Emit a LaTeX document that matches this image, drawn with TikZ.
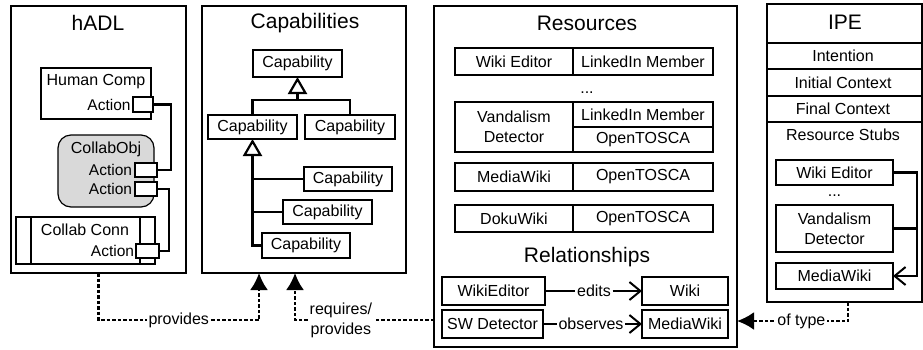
\documentclass[tikz,border=0pt]{standalone}
\usepackage{fontspec}
\setmainfont{Liberation Sans}
\usetikzlibrary{arrows.meta}
\definecolor{cofill}{RGB}{217,217,217}
\newcommand\bodyfs{\fontsize{16}{20}\selectfont}
\newcommand\titlefs{\fontsize{21}{24}\selectfont}
\newcommand\actfs{\fontsize{15.5}{18}\selectfont}
\tikzset{
  txt/.style={inner sep=0pt, outer sep=0pt, font=\bodyfs, align=center},
  ttl/.style={inner sep=0pt, outer sep=0pt, font=\titlefs},
  act/.style={inner sep=0pt, outer sep=0pt, font=\actfs, anchor=east},
  frame/.style={draw, line width=1.4pt, inner sep=0pt, outer sep=0pt},
  bx/.style={draw, line width=1.2pt, fill=white, inner sep=0pt, outer sep=0pt, font=\bodyfs, align=center},
  conn/.style={line width=2.2pt},
  rel/.style={line width=1.7pt},
  dep/.style={line width=2.4pt, dash pattern=on 3.5pt off 2pt},
  deptip/.style={-{Latex[length=17pt,width=18pt]}},
  gen/.style={-{Triangle[open,length=17pt,width=19pt,line width=2.2pt]}},
  barb/.style={-{Straight Barb[length=11pt,width=18pt,line width=2pt]}},
  lbl/.style={fill=white, inner sep=1.5pt, font=\bodyfs, align=center},
}
\begin{document}
\begin{tikzpicture}[x=1pt,y=-1pt]
\useasboundingbox (0,0) rectangle (923,349);
% ---------------- hADL ----------------
\node[frame, minimum width=175pt, minimum height=267pt] (hadl) at (98.5,139.5) {};
\node[ttl] (hadlt) at (98,23) {hADL};
\node[bx, minimum width=110pt, minimum height=51pt] (hc) at (96,93.5) {};
\node[txt] (hct) at (96,82) {Human Comp};
\node[act] (a0) at (130.5,105) {Action};
\node[bx, minimum width=20pt, minimum height=15pt] (p0) at (143,104.5) {};
\node[draw, line width=1.2pt, fill=cofill, rounded corners=13pt, minimum width=96pt, minimum height=72pt, inner sep=0pt, outer sep=0pt] (co) at (106,171) {};
\node[txt] (cot) at (106,149) {CollabObj};
\node[act] (a1) at (132,170) {Action};
\node[bx, minimum width=22pt, minimum height=14pt] (p1) at (146,170) {};
\node[act] (a2) at (132,189) {Action};
\node[bx, minimum width=22pt, minimum height=14pt] (p2) at (146,189) {};
\node[bx, minimum width=139pt, minimum height=47pt] (cc) at (85.5,240.5) {};
\draw[line width=1.2pt] ([xshift=15pt]cc.north west) -- ([xshift=15pt]cc.south west);
\draw[line width=1.2pt] ([xshift=-15pt]cc.north east) -- ([xshift=-15pt]cc.south east);
\node[txt] (cct) at (85,230) {Collab Conn};
\node[act] (a3) at (134,251) {Action};
\node[bx, minimum width=23pt, minimum height=14pt] (p3) at (147.5,251) {};
\draw[conn] (p0.east) -- ++(18,0) |- (p1.east);
\draw[conn] (p2.east) -- ++(12,0) |- (p3.east);
% ---------------- Capabilities ----------------
\node[frame, minimum width=204pt, minimum height=267pt] (caps) at (304,139.5) {};
\node[ttl] (capst) at (305,23) {Capabilities};
\node[bx, minimum width=89pt, minimum height=27pt] (c0) at (297.5,63.5) {Capability};
\node[bx, minimum width=89pt, minimum height=24pt] (c1) at (252.5,127) {Capability};
\node[bx, minimum width=90pt, minimum height=24pt] (c2) at (350,127) {Capability};
\node[bx, minimum width=88pt, minimum height=24pt] (c3) at (348,179) {Capability};
\node[bx, minimum width=89pt, minimum height=24pt] (c4) at (327.5,212) {Capability};
\node[bx, minimum width=88pt, minimum height=25pt] (c5) at (306,245.5) {Capability};
\coordinate (j0) at (297.5,100);
\draw[conn] (c1.north) |- (j0) -| (c2.north);
\draw[conn, gen] (j0) -- (c0.south);
\draw[conn, gen] (c5.west) -| (c1.south);
\draw[conn] (c3.west) -- (c3.west -| c1.south);
\draw[conn] (c4.west) -- (c4.west -| c1.south);
% ---------------- Resources ----------------
\node[frame, minimum width=303pt, minimum height=341pt] (res) at (585.5,176.5) {};
\node[ttl] (rest) at (587,23) {Resources};
\node[bx, minimum width=118pt, minimum height=27pt] (r1a) at (514,61.5) {Wiki Editor};
\node[bx, minimum width=140pt, minimum height=27pt] (r1b) at (643,61.5) {LinkedIn Member};
\node[txt] (rdots) at (587,93) {...};
\node[bx, minimum width=118pt, minimum height=50pt] (r2a) at (514,127) {Vandalism\\Detector};
\node[bx, minimum width=140pt, minimum height=25pt] (r2b) at (643,114.5) {LinkedIn Member};
\node[bx, minimum width=140pt, minimum height=25pt] (r2c) at (643,139.5) {OpenTOSCA};
\node[bx, minimum width=118pt, minimum height=28pt] (r3a) at (514,177) {MediaWiki};
\node[bx, minimum width=140pt, minimum height=28pt] (r3b) at (643,177) {OpenTOSCA};
\node[bx, minimum width=118pt, minimum height=27pt] (r4a) at (514,218.5) {DokuWiki};
\node[bx, minimum width=140pt, minimum height=27pt] (r4b) at (643,218.5) {OpenTOSCA};
\node[ttl] (relt) at (587,257) {Relationships};
\node[bx, minimum width=103pt, minimum height=28pt] (we) at (493.5,291) {WikiEditor};
\node[bx, minimum width=86pt, minimum height=28pt] (wk) at (685,291) {Wiki};
\node[bx, minimum width=101pt, minimum height=28pt] (sw) at (492.5,324) {SW Detector};
\node[bx, minimum width=86pt, minimum height=28pt] (mw) at (685,324) {MediaWiki};
\node[lbl] (ed) at (594,291) {edits};
\node[lbl] (obs) at (591,323.5) {observes};
\draw[rel] (we.east) -- (ed.west);
\draw[rel, barb] (ed.east) -- (wk.west);
\draw[rel] (sw.east) -- (sw.east -| obs.west);
\draw[rel, barb] (mw.west -| obs.east) -- (mw.west);
% ---------------- IPE ----------------
\node[frame, minimum width=155pt, minimum height=298pt] (ipe) at (844.5,153) {};
\node[ttl] (ipet) at (845,22) {IPE};
\foreach \yy in {43,69,96,122}
  \draw[line width=1.4pt] (ipe.west |- 0,\yy) -- (ipe.east |- 0,\yy);
\node[txt] (i1) at (843,56) {Intention};
\node[txt] (i2) at (843,82.5) {Initial Context};
\node[txt] (i3) at (843,109) {Final Context};
\node[txt] (i4) at (843,135) {Resource Stubs};
\node[bx, minimum width=117pt, minimum height=25pt] (s1) at (834.5,172.5) {Wiki Editor};
\node[txt] (sdots) at (834.5,196) {...};
\node[bx, minimum width=117pt, minimum height=47pt] (s2) at (834.5,228.5) {Vandalism\\Detector};
\node[bx, minimum width=117pt, minimum height=26pt] (s3) at (834.5,276) {MediaWiki};
\coordinate (sj) at (917,0);
\draw[conn, barb] (s1.east) -- (s1.east -| sj) -- (s3.east -| sj) -- (s3.east);
\draw[conn] (s2.east) -- (s2.east -| sj);
% ---------------- dependencies ----------------
\coordinate (pv) at (259,320);
\draw[dep, deptip] (hadl.south) |- node[lbl, pos=0.75] {provides} (pv) -- (caps.south -| pv);
\coordinate (rq) at (295,320);
\draw[dep, deptip] (res.west |- rq) -- node[lbl, pos=0.67] {requires/\\provides} (rq) -- (caps.south -| rq);
\coordinate (ot) at (848,321);
\draw[dep, deptip] (ipe.south -| ot) -- (ot) -- node[lbl, pos=0.42] {of type} (res.east |- ot);
\end{tikzpicture}
\end{document}
